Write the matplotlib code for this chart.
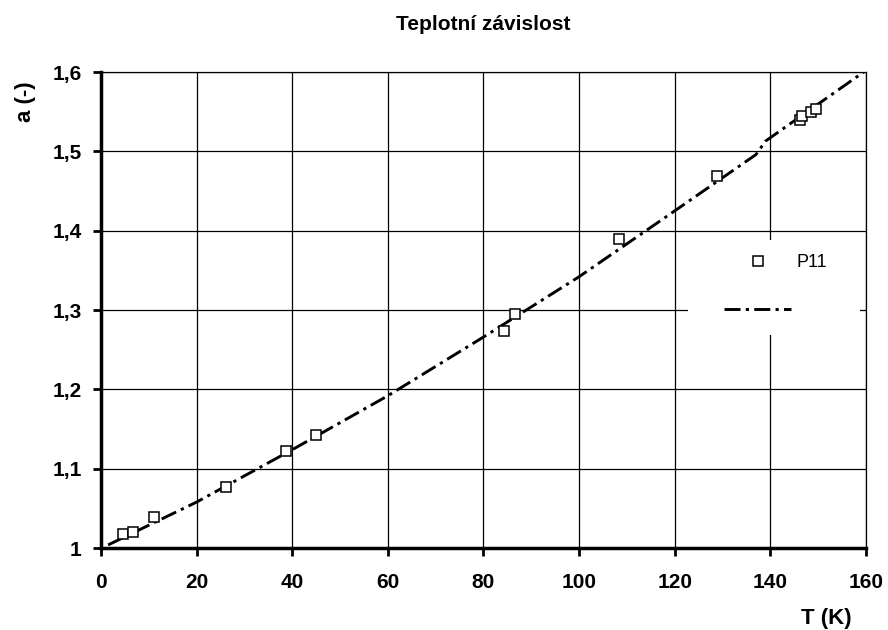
import matplotlib
matplotlib.use("Agg")
import matplotlib.pyplot as plt
from matplotlib.patches import Rectangle
from matplotlib.ticker import FuncFormatter

plt.rcParams['font.family'] = ['Liberation Sans', 'DejaVu Sans']

# measured points P11
T_meas = [4.6, 6.7, 11.1, 26.2, 38.7, 45.0, 84.3, 86.6, 108.4, 128.9, 146.3, 146.6, 148.4, 149.5]
a_meas = [1.018, 1.020, 1.039, 1.077, 1.122, 1.142, 1.274, 1.295, 1.390, 1.469, 1.540, 1.545, 1.549, 1.554]

# fitted curve
T_fit = [1.5, 20, 40, 60, 80, 100, 120, 137, 139, 160]
a_fit = [1.004, 1.058, 1.124, 1.192, 1.266, 1.342, 1.425, 1.496, 1.513, 1.602]

xticks = [0, 20, 40, 60, 80, 100, 120, 140, 160]
yticks = [1.0, 1.1, 1.2, 1.3, 1.4, 1.5, 1.6]

fig = plt.figure(figsize=(8.88, 6.3), dpi=100)
ax = fig.add_axes([0.1137, 0.130, 0.8615, 0.7557])

ax.plot(T_meas, a_meas, 's', ms=7, mfc='white', mec='black', mew=1.1, label='P11', zorder=3)
ax.plot(T_fit, a_fit, color='black', lw=2.1, dashes=(5.5, 1.8, 1.1, 1.8), label=' ', zorder=2)

ax.set_xlim(0, 160)
ax.set_ylim(1.0, 1.6)
ax.set_xticks(xticks)
ax.set_yticks(yticks)
ax.yaxis.set_major_formatter(FuncFormatter(lambda v, p: ('%g' % round(v, 2)).replace('.', ',')))
ax.grid(True, color='black', lw=0.9)
ax.set_axisbelow(True)

for s in ['left', 'bottom']:
    ax.spines[s].set_linewidth(2.5)
for s in ['top', 'right']:
    ax.spines[s].set_linewidth(0.9)

ax.tick_params(axis='both', direction='out', length=6, width=2, labelsize=15)
ax.tick_params(axis='x', pad=12)
ax.tick_params(axis='y', pad=8)
for lab in ax.get_xticklabels() + ax.get_yticklabels():
    lab.set_fontweight('bold')

ax.set_title('Teplotní závislost', fontsize=15, fontweight='bold', pad=30)
ax.set_ylabel('a (-)', fontsize=16, fontweight='bold')
ax.yaxis.set_label_coords(-0.099, 0.937)
ax.set_xlabel('T (K)', fontsize=16, fontweight='bold')
ax.xaxis.set_label_coords(0.948, -0.147)
ax.xaxis.label.set_va('center')
ax.yaxis.label.set_va('center')

# white legend area covering the grid
ax.add_patch(Rectangle((0.767, 0.447), 0.225, 0.2, transform=ax.transAxes,
                       facecolor='white', edgecolor='none', zorder=4))
leg = ax.legend(loc='center left', bbox_to_anchor=(0.803, 0.549), frameon=False,
                fontsize=13, handlelength=3.7, labelspacing=1.75,
                borderpad=0, handletextpad=0.3)
leg.set_zorder(5)

fig.savefig('out.png', dpi=100)
